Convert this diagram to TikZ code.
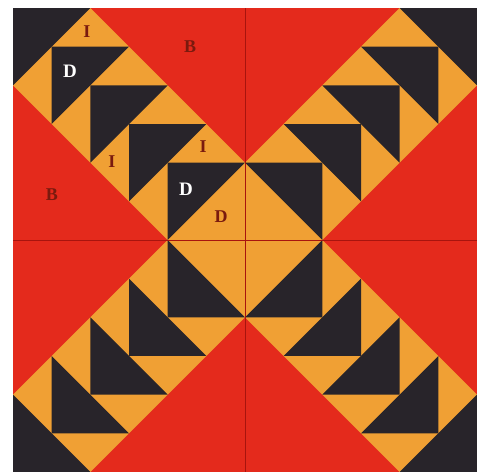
\documentclass[tikz,border=0pt]{standalone}
\usepackage{fontspec}
\setmainfont{Liberation Serif}
\definecolor{qred}{HTML}{E42A1C}
\definecolor{qorange}{HTML}{F0A034}
\definecolor{qblack}{HTML}{28242A}
\definecolor{seam}{HTML}{A8140E}
\definecolor{lab}{HTML}{7A1A0E}
\begin{document}
\begin{tikzpicture}[x=1pt,y=-1pt,
  lbl/.style={font=\bfseries\fontsize{18}{18}\selectfont, text=lab, inner sep=0pt},
  wlbl/.style={font=\bfseries\fontsize{19}{19}\selectfont, text=white, inner sep=0pt}]
\fill[white] (0,0) rectangle (492,473);
\useasboundingbox (0,0) rectangle (492,473);
\begin{scope}[shift={(245pt,-240pt)}, x=77.33pt, y=77.33pt]
  \fill[qred] (-3,-3) rectangle (3,3);
  \fill[qorange] (-1,-1) rectangle (1,1);
  \foreach \sx in {-1,1} {
    \foreach \sy in {-1,1} {
      \fill[qorange] (0,\sy) -- (2*\sx,3*\sy) -- (3*\sx,3*\sy) -- (3*\sx,2*\sy) -- (\sx,0) -- cycle;
      \foreach \k in {1,1.5,2,2.5,3} {
        \fill[qblack] ({\k*\sx},{\k*\sy}) -- ({(\k-1)*\sx},{\k*\sy}) -- ({\k*\sx},{(\k-1)*\sy}) -- cycle;
      }
    }
  }
  \draw[seam, line width=0.8pt] (0,-3) -- (0,3) (-3,0) -- (3,0);
\end{scope}
\node[lbl] (i1) at (87,32) {I};
\node[wlbl] (d1) at (70,71) {D};
\node[lbl] (b1) at (190,47) {B};
\node[lbl] (b2) at (52,195) {B};
\node[lbl] (i2) at (112,162) {I};
\node[lbl] (i3) at (203,147) {I};
\node[wlbl] (d2) at (186,189) {D};
\node[lbl] (d3) at (221,217) {D};
\end{tikzpicture}
\end{document}
